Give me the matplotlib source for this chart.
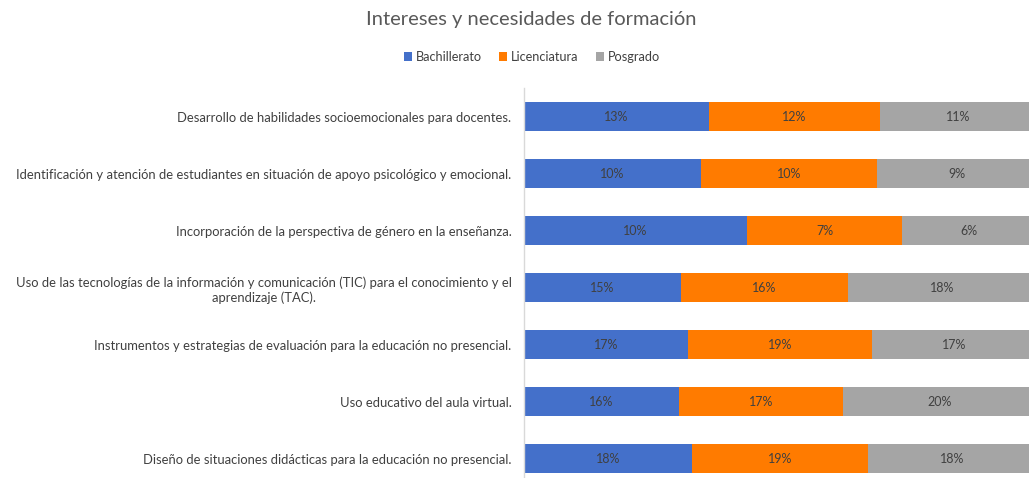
import numpy as np
import matplotlib.pyplot as plt

# ── Data ──────────────────────────────────────────────────────
categories = [
    "Desarrollo de habilidades socioemocionales para docentes.",
    "Identificación y atención de estudiantes en situación de apoyo psicológico y emocional.",
    "Incorporación de la perspectiva de género en la enseñanza.",
    "Uso de las tecnologías de la información y comunicación (TIC) para el conocimiento y el\naprendizaje (TAC).",
    "Instrumentos y estrategias de evaluación para la educación no presencial.",
    "Uso educativo del aula virtual.",
    "Diseño de situaciones didácticas para la educación no presencial.",
]
series_names = ["Bachillerato", "Licenciatura", "Posgrado"]
bachillerato = [13, 10, 10, 15, 17, 16, 18]
licenciatura = [12, 10, 7, 16, 19, 17, 19]
posgrado     = [11, 9, 6, 18, 17, 20, 18]
colors = ['#4470CA', '#FF7B00', '#A5A5A5']

plt.rcParams['font.family'] = ['Lato', 'DejaVu Sans']

W, H = 1029, 478
fig = plt.figure(figsize=(W / 100, H / 100), dpi=100)

# plot area extends slightly past the right/bottom edge like the cropped original
left, right = 524, 1036
top, bottom = 88, 487
ax = fig.add_axes([left / W, 1 - bottom / H, (right - left) / W, (bottom - top) / H])

data = np.array([bachillerato, licenciatura, posgrado], dtype=float)
shares = data / data.sum(axis=0)
y = np.arange(len(categories))

start = np.zeros(len(categories))
for name, vals, pct, col in zip(series_names, data, shares, colors):
    ax.barh(y, pct, left=start, height=0.5, color=col, label=name, edgecolor='none')
    for yi, s, p, v in zip(y, start, pct, vals):
        ax.text(s + p / 2, yi, f"{int(v)}%", ha='center', va='center',
                fontsize=9, color='#404040')
    start += pct

ax.set_xlim(0, 1)
ax.set_ylim(len(categories) - 0.5, -0.5)
ax.set_yticks(y)
ax.set_yticklabels(categories, fontsize=9.4, color='#404040',
                   multialignment='center', linespacing=1.3)
ax.tick_params(axis='y', length=0, pad=9)
ax.set_xticks([])
for side in ['top', 'right', 'bottom']:
    ax.spines[side].set_visible(False)
ax.spines['left'].set_color('#D9D9D9')
ax.spines['left'].set_linewidth(1)

fig.text(531 / W, 1 - 20 / H, "Intereses y necesidades de formación",
         ha='center', va='center', fontsize=14.5, color='#595959')

handles, labels = ax.get_legend_handles_labels()
fig.legend(handles, labels, loc='center', bbox_to_anchor=(532 / W, 1 - 57 / H),
           ncol=3, frameon=False, fontsize=9.2, handlelength=0.6, handleheight=0.6,
           handletextpad=0.3, columnspacing=1.4, labelcolor='#404040')

plt.savefig("out.png", dpi=100)
plt.close()
